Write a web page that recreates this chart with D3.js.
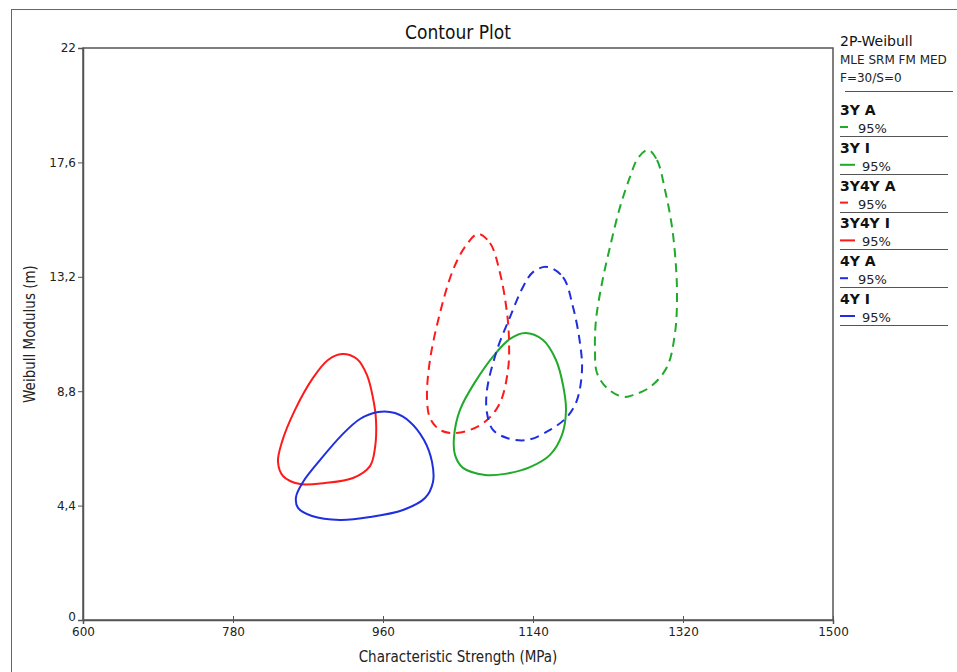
<!DOCTYPE html>
<html><head><meta charset="utf-8">
<script src="https://cdn.jsdelivr.net/npm/d3@7"></script>
<style>body{margin:0;background:#fff}svg{display:block}</style>
</head><body>
<svg id="chart" width="957" height="672"></svg>
<script>
// ---------- data ----------
const xTicks = [600, 780, 960, 1140, 1320, 1500];
const yTicks = [0, 4.4, 8.8, 13.2, 17.6, 22];
const seriesNames = ["3Y A", "3Y I", "3Y4Y A", "3Y4Y I", "4Y A", "4Y I"];
const seriesColors = ["#1faa2a", "#1faa2a", "#ff1a1a", "#ff1a1a", "#1f2fe0", "#1f2fe0"];
const seriesDashed = [true, false, true, false, true, false];
const seriesLevel = ["95%", "95%", "95%", "95%", "95%", "95%"];

const contour3YA = [[1278,18.08],[1288.8,17.69],[1298.4,16.54],[1306.8,15.12],[1311.6,13.58],[1312.8,12.31],[1310.4,11.04],[1300.8,9.73],[1280.4,8.96],[1260,8.65],[1248,8.58],[1228.8,8.92],[1216.8,9.5],[1214.4,10.38],[1215.6,11.54],[1222.8,12.96],[1232.4,14.35],[1244.4,15.88],[1256.4,17.04],[1266,17.77]];
const contour3YI = [[1130.4,11.04],[1152,10.77],[1167.6,10.0],[1176,9.04],[1179.6,8.08],[1174.8,7.12],[1160.4,6.35],[1136.4,5.88],[1106.4,5.62],[1082.4,5.58],[1056,5.85],[1046.4,6.35],[1045.2,7.04],[1052.4,8.08],[1070.4,9.15],[1094.4,10.23],[1112.4,10.81]];
const contour3Y4YA = [[1074,14.85],[1088.4,14.5],[1100.4,13.35],[1108.8,11.81],[1111.2,10.77],[1110,9.62],[1100.4,8.35],[1084.8,7.69],[1064.4,7.31],[1044,7.19],[1028.4,7.31],[1016.4,7.77],[1012.8,8.58],[1016.4,10.0],[1028.4,11.81],[1044,13.46],[1058.4,14.35]];
const contour3Y4YI = [[910.8,10.23],[928.8,10.04],[940.8,9.42],[948,8.54],[951.6,7.69],[950.4,6.62],[944.4,5.92],[924,5.46],[890.4,5.27],[860.4,5.23],[840,5.54],[834,6.08],[838.8,6.85],[854.4,8.08],[876,9.31],[894,10.0]];
const contour4YA = [[1156.8,13.58],[1176,13.19],[1188,12.04],[1196.4,10.65],[1198.8,9.62],[1192.8,8.46],[1180.8,7.81],[1160.4,7.31],[1132.8,6.92],[1108.8,7.0],[1092,7.31],[1084.8,7.96],[1084.8,8.85],[1096.8,10.38],[1112.4,11.65],[1128,12.81],[1140,13.38]];
const contour4YI = [[954,8.0],[974.4,7.96],[992.4,7.62],[1009.2,6.92],[1018.8,6.08],[1020,5.31],[1010.4,4.69],[984,4.23],[944.4,3.96],[908.4,3.85],[874.8,4.0],[858,4.31],[855.6,4.73],[864,5.31],[884.4,6.15],[910.8,7.12],[932.4,7.73]];
const contours = [contour3YA, contour3YI, contour3Y4YA, contour3Y4YI, contour4YA, contour4YI];

// ---------- chart ----------
const svg = d3.select("#chart");
const FONT = "'DejaVu Sans', Verdana, sans-serif";
const COND = "'DejaVu Sans Condensed', 'DejaVu Sans', sans-serif";

// outer frame
svg.append("rect").attr("x", 11.5).attr("y", 9.5).attr("width", 1000).attr("height", 700)
  .attr("fill", "none").attr("stroke", "#666").attr("stroke-width", 1);

const x = d3.scaleLinear().domain([600, 1500]).range([83, 833]);
const y = d3.scaleLinear().domain([0, 22]).range([620, 48]);

// plot box
svg.append("rect").attr("x", x(600)).attr("y", y(22)).attr("width", x(1500) - x(600)).attr("height", y(0) - y(22))
  .attr("fill", "none").attr("stroke", "#555").attr("stroke-width", 1.5);

const fmt = d => String(d).replace(".", ",");

const gx = svg.append("g").attr("transform", `translate(0,${y(0)})`)
  .call(d3.axisBottom(x).tickValues(xTicks).tickFormat(fmt).tickSize(4).tickPadding(3));
gx.selectAll(".tick line").attr("y1", -4).attr("y2", 3).attr("stroke", "#555");
gx.select(".domain").attr("stroke", "#555").attr("stroke-width", 1.5);
gx.selectAll("text").attr("font-family", FONT).attr("font-size", 12).attr("fill", "#222");

const gy = svg.append("g").attr("transform", `translate(${x(600)},0)`)
  .call(d3.axisLeft(y).tickValues(yTicks).tickFormat(fmt).tickSize(5).tickPadding(2));
gy.selectAll(".tick line").attr("stroke", "#555");
gy.select(".domain").attr("stroke", "#555").attr("stroke-width", 1.5);
gy.selectAll("text").attr("font-family", FONT).attr("font-size", 12).attr("fill", "#222");
gy.selectAll(".tick").filter(d => d === 0).select("text").attr("dy", "0.05em");

// titles
svg.append("text").attr("x", (x(600) + x(1500)) / 2).attr("y", 39).attr("text-anchor", "middle")
  .attr("font-family", COND).attr("font-size", 19).attr("fill", "#111").text("Contour Plot");
svg.append("text").attr("x", (x(600) + x(1500)) / 2).attr("y", 662).attr("text-anchor", "middle")
  .attr("font-family", COND).attr("font-size", 15).attr("fill", "#222").text("Characteristic Strength (MPa)");
svg.append("text").attr("transform", `translate(35,${(y(0) + y(22)) / 2}) rotate(-90)`).attr("text-anchor", "middle")
  .attr("font-family", COND).attr("font-size", 15).attr("fill", "#222").text("Weibull Modulus (m)");

// contours
const line = d3.line().x(d => x(d[0])).y(d => y(d[1])).curve(d3.curveCatmullRomClosed.alpha(0.5));
const plot = svg.append("g");
contours.forEach((c, i) => {
  plot.append("path").attr("d", line(c)).attr("fill", "none")
    .attr("stroke", seriesColors[i]).attr("stroke-width", 2)
    .attr("stroke-dasharray", seriesDashed[i] ? "9,6" : null);
});

// legend
const lg = svg.append("g");
lg.append("text").attr("x", 840).attr("y", 46).attr("font-family", FONT).attr("font-size", 14).attr("fill", "#111").text("2P-Weibull");
lg.append("text").attr("x", 840).attr("y", 64).attr("font-family", FONT).attr("font-size", 12).attr("fill", "#222").text("MLE SRM FM MED");
lg.append("text").attr("x", 840).attr("y", 82).attr("font-family", FONT).attr("font-size", 12).attr("fill", "#222").text("F=30/S=0");
lg.append("line").attr("x1", 845).attr("x2", 953).attr("y1", 91.5).attr("y2", 91.5).attr("stroke", "#555").attr("stroke-width", 1.2);

seriesNames.forEach((n, i) => {
  const sep = 136 + i * 37.8;
  const g = lg.append("g");
  g.append("text").attr("x", 840).attr("y", sep - 21).attr("font-family", FONT).attr("font-weight", "bold")
    .attr("font-size", 14).attr("fill", "#111").text(n);
  g.append("line").attr("x1", 840).attr("x2", seriesDashed[i] ? 848 : 855)
    .attr("y1", sep - 9).attr("y2", sep - 9).attr("stroke", seriesColors[i]).attr("stroke-width", 2);
  g.append("text").attr("x", seriesDashed[i] ? 858 : 862).attr("y", sep - 3).attr("font-family", FONT)
    .attr("font-size", 13).attr("fill", "#222").text(seriesLevel[i]);
  g.append("line").attr("x1", 840).attr("x2", 948).attr("y1", Math.round(sep) + 0.5).attr("y2", Math.round(sep) + 0.5)
    .attr("stroke", "#555").attr("stroke-width", 1.2);
});
</script>
</body></html>
